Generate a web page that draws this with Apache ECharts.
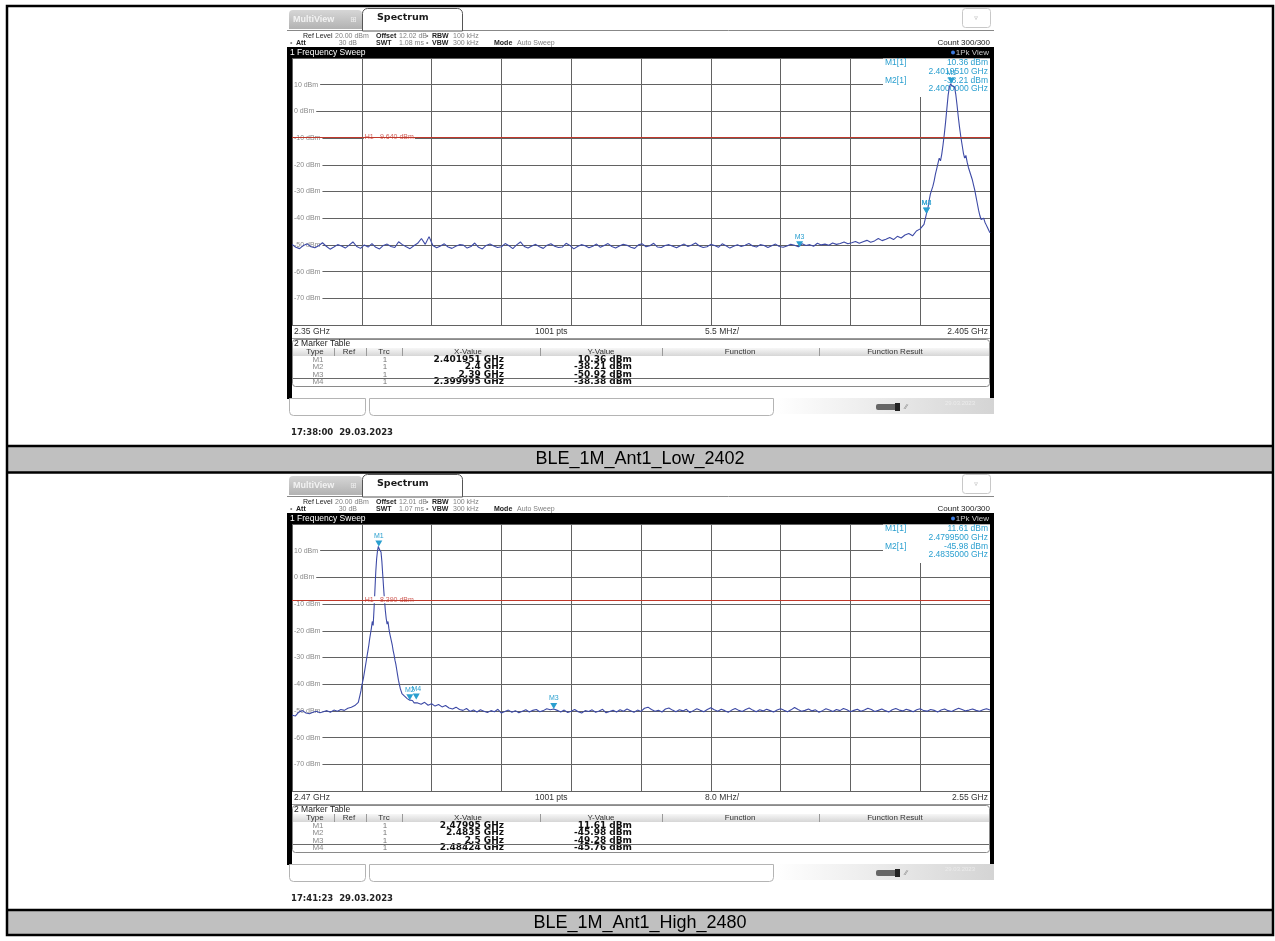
<!DOCTYPE html>
<html>
<head>
<meta charset="utf-8">
<script src="https://cdn.jsdelivr.net/npm/echarts@6/dist/echarts.min.js"></script>
<style>
html, body { margin: 0; padding: 0; background: #fff; }
#chart { width: 1275px; height: 941px; }
</style>
</head>
<body>
<div id="chart"></div>
<script>
// ---------------- data: low channel (2402 MHz) ----------------
const lowCaption = "BLE_1M_Ant1_Low_2402";
const lowSpanMHz = [2350, 2405];
const lowDivMHz = 5.5;
const lowAxisText = ["2.35 GHz", "1001 pts", "5.5 MHz/", "2.405 GHz"];
const lowSetup = ["20.00 dBm", "12.02 dB", "100 kHz", "30 dB", "1.08 ms", "300 kHz"];
const lowStamp = "17:38:00  29.03.2023";
const lowDisplayLine = -9.64;
const lowMarkerNames = ["M1", "M2", "M3", "M4"];
const lowMarkerGHz = [2.401951, 2.4, 2.39, 2.399995];
const lowMarkerDbm = [10.36, -38.21, -50.92, -38.38];
// trace, 2350.0 .. 2399.8 MHz every 0.3 MHz
const lowFloorStart = 2350.0, lowFloorStep = 0.3;
const lowFloorLevels = [
  -49.8,-50.9,-51.4,-50.2,-49.6,-50.7,-51.1,-50.3,-49.2,-50.5,-51.6,-50.8,-49.9,-50.4,-51.2,-50.1,-48.9,-50.6,-51.3,-50.0,
  -50.8,-49.5,-50.9,-51.5,-50.2,-49.7,-50.6,-51.0,-48.8,-49.9,-50.7,-51.4,-50.3,-49.4,-47.6,-49.8,-46.9,-50.2,-51.1,-50.4,
  -49.6,-50.8,-51.3,-50.5,-49.9,-50.1,-51.2,-50.6,-49.3,-50.9,-51.5,-50.2,-49.7,-50.4,-51.0,-50.7,-49.5,-50.3,-51.4,-50.0,
  -48.9,-50.6,-51.2,-50.4,-49.8,-50.7,-51.3,-50.1,-49.6,-50.5,-51.0,-50.8,-49.4,-50.2,-51.5,-50.6,-49.9,-50.3,-51.1,-50.5,
  -49.7,-50.9,-50.2,-49.5,-50.6,-51.2,-50.4,-49.8,-50.1,-50.9,-51.3,-50.0,-49.6,-50.7,-50.3,-49.4,-50.8,-51.0,-50.2,-49.9,
  -50.5,-51.1,-50.3,-49.7,-50.6,-50.0,-49.3,-50.4,-51.0,-50.7,-49.8,-50.2,-50.9,-49.6,-50.3,-51.2,-50.5,-49.9,-50.6,-50.1,
  -49.5,-50.4,-50.8,-49.9,-50.2,-51.0,-50.3,-49.7,-50.6,-50.9,-50.4,-49.8,-50.1,-50.7,-49.6,-50.2,-49.9,-50.5,-49.4,-50.0,
  -49.7,-50.1,-49.3,-49.8,-49.5,-48.9,-49.6,-49.2,-48.7,-49.4,-48.8,-48.3,-49.0,-48.5,-47.6,-48.4,-47.9,-47.2,-48.0,-46.8,
  -47.4,-46.3,-45.7,-46.6,-44.8,-44.0,-42.3
];
// trace, 2400.0 .. 2405.0 MHz every 0.1 MHz
const lowSkirtStart = 2400.0, lowSkirtStep = 0.1;
const lowSkirtLevels = [
  -38.2,-36.5,-33.5,-31.0,-29.5,-28.0,-26.0,-23.5,-21.5,-19.5,
  -17.5,-18.5,-16.0,-12.5,-8.5,-4.0,1.0,6.0,9.2,10.36,
  9.5,10.0,9.2,6.5,2.5,-2.0,-6.0,-9.5,-12.5,-15.5,
  -17.5,-16.5,-19.0,-21.0,-22.5,-24.0,-25.5,-27.5,-29.5,-32.0,
  -34.5,-37.0,-39.0,-40.5,-41.0,-40.0,-41.5,-42.5,-43.5,-44.5,
  -45.5
];

// ---------------- data: high channel (2480 MHz) ----------------
const highCaption = "BLE_1M_Ant1_High_2480";
const highSpanMHz = [2470, 2550];
const highDivMHz = 8;
const highAxisText = ["2.47 GHz", "1001 pts", "8.0 MHz/", "2.55 GHz"];
const highSetup = ["20.00 dBm", "12.01 dB", "100 kHz", "30 dB", "1.07 ms", "300 kHz"];
const highStamp = "17:41:23  29.03.2023";
const highDisplayLine = -8.39;
const highMarkerNames = ["M1", "M2", "M3", "M4"];
const highMarkerGHz = [2.47995, 2.4835, 2.5, 2.48424];
const highMarkerDbm = [11.61, -45.98, -49.28, -45.76];
// trace, 2470.0 .. 2477.6 MHz every 0.4 MHz
const highPreStart = 2470.0, highPreStep = 0.4;
const highPreLevels = [
  -51.6,-51.9,-50.4,-49.9,-50.8,-51.1,-50.5,-50.1,-50.7,-50.3,
  -49.9,-50.5,-49.7,-50.1,-49.5,-49.8,-49.0,-48.6,-48.0,-46.8
];
// trace, 2477.8 .. 2484.0 MHz every 0.1 MHz
const highSkirtStart = 2477.8, highSkirtStep = 0.1;
const highSkirtLevels = [
  -44.0,-42.5,-40.5,-39.0,-37.5,-35.5,-33.5,-31.5,-29.5,-27.5,
  -25.5,-23.0,-21.0,-19.0,-16.5,-18.0,-12.0,-5.0,2.0,7.0,
  10.0,11.61,10.6,11.2,9.5,6.0,1.0,-4.0,-8.5,-12.5,
  -15.5,-17.5,-16.5,-19.0,-21.0,-22.5,-24.0,-25.5,-27.5,-29.0,
  -31.0,-32.5,-34.5,-36.5,-38.5,-40.0,-41.5,-42.5,-43.5,-43.0,
  -44.0,-44.5,-45.0,-44.6,-45.4,-45.9,-45.3,-45.98,-46.3,-46.7,
  -46.1,-46.8,-47.0
];
// trace, 2484.4 .. 2550.0 MHz every 0.4 MHz
const highPostStart = 2484.4, highPostStep = 0.4;
const highPostLevels = [
  -47.0,-47.5,-46.8,-47.9,-47.3,-48.2,-47.6,-48.5,-48.0,-48.9,-49.3,-48.6,-49.5,-49.8,-49.1,-50.2,-49.7,-50.4,-49.6,-50.1,
  -50.6,-49.9,-50.3,-49.4,-50.8,-50.2,-49.7,-50.5,-49.9,-50.7,-50.1,-49.6,-50.4,-49.8,-49.5,-50.3,-49.9,-49.2,-49.6,-49.28,
  -49.8,-50.4,-49.7,-50.6,-50.1,-49.5,-50.3,-50.8,-49.9,-50.2,-49.6,-50.5,-50.0,-49.4,-50.7,-50.2,-49.8,-50.4,-49.6,-50.1,
  -49.3,-49.9,-50.5,-49.7,-50.2,-49.0,-48.6,-49.5,-50.1,-49.8,-50.4,-49.3,-48.9,-49.7,-50.3,-49.6,-50.0,-49.4,-50.6,-49.9,
  -49.2,-49.8,-50.3,-49.5,-48.8,-49.6,-50.1,-49.4,-49.9,-50.5,-49.7,-49.1,-49.8,-50.2,-49.5,-48.9,-49.7,-50.3,-49.6,-50.0,
  -49.4,-49.9,-50.4,-49.7,-49.2,-49.8,-50.3,-49.6,-48.7,-49.5,-50.1,-49.8,-49.3,-50.0,-49.6,-50.5,-49.9,-49.2,-49.7,-50.2,
  -49.5,-49.9,-49.1,-49.6,-50.3,-49.8,-49.4,-50.1,-49.7,-49.0,-49.5,-50.2,-49.8,-49.3,-49.9,-50.4,-49.6,-49.1,-49.7,-50.0,
  -49.4,-49.8,-50.3,-49.6,-49.2,-49.9,-50.1,-49.5,-49.8,-50.4,-49.7,-49.3,-49.9,-50.2,-49.6,-49.0,-49.5,-50.0,-49.7,-49.3,
  -49.8,-50.1,-49.6,-49.2,-49.7
];

const levelRange = [-80, 20];
const levelStep = 10;

// ---------------- helpers ----------------
const FONT = '"Liberation Sans", Arial, sans-serif';
const FONT_B = '"DejaVu Sans", Verdana, sans-serif';
const TRACE = '#3d4aa6';
const MARK = '#2a9fcf';
const H_RED = '#c0392b';

function text(x, y, str, o) {
  o = o || {};
  const al = o.align || 'left';
  return {
    type: 'text', x: x, y: y, z: o.z == null ? 1 : o.z, silent: true,
    style: {
      text: str, fill: o.color || '#333',
      fontSize: o.size || 8, fontFamily: o.family || FONT, fontWeight: o.weight || 'normal',
      align: al, textAlign: al, verticalAlign: 'middle', textVerticalAlign: 'middle',
      backgroundColor: o.bg, padding: o.pad
    }
  };
}
function box(x, y, w, h, o) {
  o = o || {};
  return {
    type: 'rect', z: o.z == null ? 1 : o.z, silent: true,
    shape: { x: x, y: y, width: w, height: h, r: o.r || 0 },
    style: { fill: o.fill == null ? '#fff' : o.fill, stroke: o.stroke || null, lineWidth: o.lw || 1 }
  };
}
function rule(x1, y1, x2, y2, color, w) {
  return { type: 'line', z: 1, silent: true, shape: { x1: x1, y1: y1, x2: x2, y2: y2 },
           style: { stroke: color, lineWidth: w || 1 } };
}
function vgrad(a, b) {
  return new echarts.graphic.LinearGradient(0, 0, 0, 1, [{ offset: 0, color: a }, { offset: 1, color: b }]);
}
function hgrad(a, b) {
  return new echarts.graphic.LinearGradient(0, 0, 1, 0, [{ offset: 0, color: a }, { offset: 1, color: b }]);
}
function traceData(segments, originMHz) {
  const pts = [];
  segments.forEach(function (s) {
    s.levels.forEach(function (v, i) {
      pts.push([+(s.start + i * s.step - originMHz).toFixed(3), v]);
    });
  });
  return pts;
}

const panels = [
  {
    top: 0, caption: lowCaption, span: lowSpanMHz, div: lowDivMHz, axisText: lowAxisText,
    setup: lowSetup, stamp: lowStamp, hline: lowDisplayLine,
    names: lowMarkerNames, ghz: lowMarkerGHz, dbm: lowMarkerDbm,
    trace: traceData([
      { start: lowFloorStart, step: lowFloorStep, levels: lowFloorLevels },
      { start: lowSkirtStart, step: lowSkirtStep, levels: lowSkirtLevels }
    ], lowSpanMHz[0])
  },
  {
    top: 466, caption: highCaption, span: highSpanMHz, div: highDivMHz, axisText: highAxisText,
    setup: highSetup, stamp: highStamp, hline: highDisplayLine,
    names: highMarkerNames, ghz: highMarkerGHz, dbm: highMarkerDbm,
    trace: traceData([
      { start: highPreStart, step: highPreStep, levels: highPreLevels },
      { start: highSkirtStart, step: highSkirtStep, levels: highSkirtLevels },
      { start: highPostStart, step: highPostStep, levels: highPostLevels }
    ], highSpanMHz[0])
  }
];

const PLOT = { left: 292, top: 58, width: 698, height: 267 };

// ---------------- analyser screen chrome ----------------
function chrome(p) {
  const g = [];
  const Y = function (v) { return p.top + v; };
  // tab bar
  g.push(box(289, Y(10), 73, 19, { fill: vgrad('#d6d6d6', '#b2b2b2'), r: [4, 4, 0, 0] }));
  g.push(text(293, Y(20), 'MultiView', { color: '#f2f2f2', size: 9, weight: 'bold' }));
  g.push(text(350, Y(20), '\u229e', { color: '#eee', size: 8, family: FONT_B }));
  g.push(rule(287, Y(30.5), 362, Y(30.5), '#888'));
  g.push(rule(463, Y(30.5), 994, Y(30.5), '#888'));
  g.push(box(362.5, Y(8.5), 100, 22.5, { fill: '#fff', stroke: '#555', r: [5, 5, 0, 0] }));
  g.push(text(377, Y(18), 'Spectrum', { color: '#1a1a1a', size: 9.5, weight: 'bold', family: FONT_B }));
  g.push(box(962.5, Y(8.5), 28, 19, { fill: '#fff', stroke: '#c8c8c8', r: 3 }));
  g.push(text(976, Y(18), '\u25bf', { color: '#aaa', size: 7, align: 'center', family: FONT_B }));
  // setup lines
  const r1 = Y(36), r2 = Y(43), s = 7;
  const lab = function (x, y, t, b) { g.push(text(x, y, t, { size: s, color: '#222', weight: b ? 'bold' : 'normal' })); };
  const val = function (x, y, t, al) { g.push(text(x, y, t, { size: s, color: '#808080', align: al })); };
  lab(303, r1, 'Ref Level'); val(335, r1, p.setup[0]);
  lab(376, r1, 'Offset', true); val(399, r1, p.setup[1]);
  val(426, r1, '\u2022'); lab(432, r1, 'RBW', true); val(453, r1, p.setup[2]);
  val(290, r2, '\u2022'); lab(296, r2, 'Att', true); val(357, r2, p.setup[3], 'right');
  lab(376, r2, 'SWT', true); val(399, r2, p.setup[4]);
  val(426, r2, '\u2022'); lab(432, r2, 'VBW', true); val(453, r2, p.setup[5]);
  lab(494, r2, 'Mode', true); val(517, r2, 'Auto Sweep');
  g.push(text(990, r2, 'Count 300/300', { size: 8, color: '#222', align: 'right' }));
  // window title bar and frame
  g.push(box(287, Y(47), 707, 11, { fill: '#000' }));
  g.push(text(290, Y(52.5), '1 Frequency Sweep', { color: '#fff', size: 8.5 }));
  g.push({ type: 'circle', z: 1, silent: true, shape: { cx: 953, cy: Y(52.5), r: 2 }, style: { fill: '#3d7be0' } });
  g.push(text(989, Y(52.5), '1Pk View', { color: '#c8c8c8', size: 8, align: 'right' }));
  g.push(box(287, Y(57), 5, 342, { fill: '#000' }));
  g.push(box(990, Y(57), 4, 342, { fill: '#000' }));
  // frequency axis strip
  const ay = Y(332);
  g.push(text(294, ay, p.axisText[0], { size: 8.5, color: '#333' }));
  g.push(text(535, ay, p.axisText[1], { size: 8.5, color: '#333' }));
  g.push(text(705, ay, p.axisText[2], { size: 8.5, color: '#333' }));
  g.push(text(988, ay, p.axisText[3], { size: 8.5, color: '#333', align: 'right' }));
  g.push(rule(292, Y(338.5), 990, Y(338.5), '#9a9a9a'));
  // marker table
  g.push(box(292.5, Y(339.5), 697, 47, { fill: '#fff', stroke: '#8a8a8a', r: 3 }));
  g.push(text(294, Y(344), '2 Marker Table', { size: 8.5, color: '#222' }));
  g.push(box(293, Y(348), 696, 8, { fill: vgrad('#f7f7f7', '#d6d6d6') }));
  const hy = Y(352);
  [['Type', 315], ['Ref', 349], ['Trc', 384], ['X-Value', 468], ['Y-Value', 601], ['Function', 740], ['Function Result', 895]]
    .forEach(function (h) { g.push(text(h[1], hy, h[0], { size: 8, color: '#333', align: 'center' })); });
  [334, 366, 402, 540, 662, 819].forEach(function (x) { g.push(rule(x + 0.5, Y(348), x + 0.5, Y(356), '#9a9a9a')); });
  const rowY = [359.5, 367, 374.5, 382];
  p.names.forEach(function (n, i) {
    const y = Y(rowY[i]);
    g.push(text(318, y, n, { size: 8, color: '#8a8a8a', align: 'center' }));
    g.push(text(385, y, '1', { size: 8, color: '#777', align: 'center' }));
    g.push(text(504, y, p.ghz[i] + ' GHz', { size: 9, weight: 'bold', family: FONT_B, color: '#111', align: 'right' }));
    g.push(text(632, y, p.dbm[i].toFixed(2) + ' dBm', { size: 9, weight: 'bold', family: FONT_B, color: '#111', align: 'right' }));
  });
  g.push(rule(293, Y(378.5), 989, Y(378.5), '#6a6a6a'));
  // status bar
  g.push(box(289.5, Y(398.5), 76, 17, { fill: '#fff', stroke: '#b4b4b4', r: [0, 0, 4, 4] }));
  g.push(box(369.5, Y(398.5), 404, 17, { fill: '#fff', stroke: '#b4b4b4', r: [0, 0, 4, 4] }));
  g.push(box(775, Y(398), 219, 16, { fill: hgrad('#ffffff', '#d4d4d4') }));
  g.push(box(876, Y(404), 22, 6, { fill: '#666', r: 2 }));
  g.push(box(895, Y(403), 5, 8, { fill: '#222' }));
  g.push(text(905, Y(407), '\u2215\u2215', { size: 7, color: '#777' }));
  g.push(text(945, Y(403), '29.03.2023', { size: 6, color: '#ececec' }));
  // timestamp
  g.push(text(291, Y(433), p.stamp, { size: 8.5, weight: 'bold', family: FONT_B, color: '#222' }));
  // marker readout box (under the trace, over the grid)
  const ry = [63, 72, 80.5, 89];
  g.push(box(883, Y(58.5), 107, 38.5, { fill: '#fff', z: 1 }));
  g.push(text(885, Y(ry[0]), p.names[0] + '[1]', { size: 8.5, color: MARK }));
  g.push(text(988, Y(ry[0]), p.dbm[0].toFixed(2) + ' dBm', { size: 8.5, color: MARK, align: 'right' }));
  g.push(text(988, Y(ry[1]), p.ghz[0].toFixed(7) + ' GHz', { size: 8.5, color: MARK, align: 'right' }));
  g.push(text(885, Y(ry[2]), p.names[1] + '[1]', { size: 8.5, color: MARK }));
  g.push(text(988, Y(ry[2]), p.dbm[1].toFixed(2) + ' dBm', { size: 8.5, color: MARK, align: 'right' }));
  g.push(text(988, Y(ry[3]), p.ghz[1].toFixed(7) + ' GHz', { size: 8.5, color: MARK, align: 'right' }));
  return g;
}

// ---------------- report table ----------------
function reportTable() {
  const g = [];
  g.push(box(8, 446, 1264, 26, { fill: '#c0c0c0' }));
  g.push(box(8, 910, 1264, 25, { fill: '#c0c0c0' }));
  g.push(rule(7, 446, 1273, 446, '#000', 2.5));
  g.push(rule(7, 472.5, 1273, 472.5, '#000', 2.5));
  g.push(rule(7, 910, 1273, 910, '#000', 2.5));
  g.push(box(7, 6, 1266, 929, { fill: 'none', stroke: '#000', lw: 2.5 }));
  g.push(text(640, 459.5, panels[0].caption, { size: 18, color: '#000', align: 'center' }));
  g.push(text(640, 923, panels[1].caption, { size: 18, color: '#000', align: 'center' }));
  return g;
}

// ---------------- chart ----------------
const chart = echarts.init(document.getElementById('chart'), null, { renderer: 'canvas' });
const tri = 'path://M0,0 L10,0 L5,8 Z';

const option = {
  animation: false,
  backgroundColor: '#fff',
  grid: panels.map(function (p) {
    return { left: PLOT.left, top: PLOT.top + p.top, width: PLOT.width, height: PLOT.height,
             show: true, backgroundColor: '#fff', borderWidth: 0 };
  }),
  xAxis: panels.map(function (p, i) {
    return {
      gridIndex: i, type: 'value', min: 0, max: p.span[1] - p.span[0], interval: p.div,
      axisLine: { show: false }, axisTick: { show: false }, axisLabel: { show: false },
      splitLine: { show: true, lineStyle: { color: '#626262', width: 1 } }
    };
  }),
  yAxis: panels.map(function (p, i) {
    return {
      gridIndex: i, type: 'value', min: levelRange[0], max: levelRange[1], interval: levelStep,
      axisLine: { show: false }, axisTick: { show: false },
      axisLabel: {
        inside: true, margin: 1, color: '#8a8a8a', fontSize: 7, fontFamily: FONT,
        backgroundColor: '#fff', padding: [0, 2, 0, 1],
        formatter: function (v) { return (v === levelRange[0] || v === levelRange[1]) ? '' : v + ' dBm'; }
      },
      splitLine: { show: true, lineStyle: { color: '#626262', width: 1 } }
    };
  }),
  series: panels.map(function (p, i) {
    return {
      type: 'line', xAxisIndex: i, yAxisIndex: i, data: p.trace,
      showSymbol: false, symbol: 'none', z: 2,
      lineStyle: { color: TRACE, width: 1.1 },
      markLine: {
        silent: true, symbol: 'none', animation: false,
        lineStyle: { color: H_RED, type: 'solid', width: 1 },
        label: { show: false },
        data: [{ yAxis: p.hline }]
      },
      markPoint: {
        silent: true, animation: false,
        symbol: tri, symbolSize: [7, 6], symbolOffset: [0, -3],
        itemStyle: { color: MARK },
        label: { show: true, position: 'top', distance: 1, formatter: '{b}', color: MARK, fontSize: 7, fontFamily: FONT },
        data: p.names.map(function (n, k) {
          return { name: n, coord: [p.ghz[k] * 1000 - p.span[0], p.dbm[k]] };
        })
      }
    };
  })
};
chart.setOption(option);

// display line labels, placed from the axes
let elements = reportTable();
panels.forEach(function (p, i) {
  elements = elements.concat(chrome(p));
  const pt = chart.convertToPixel({ gridIndex: i }, [p.div, p.hline]);
  elements.push(text(pt[0] + 2, pt[1], 'H1  ' + p.hline.toFixed(3) + ' dBm',
    { size: 7, color: '#d0605a', bg: '#fff', pad: [0, 1, 0, 1], z: 3 }));
});
chart.setOption({ graphic: { elements: elements } });
</script>
